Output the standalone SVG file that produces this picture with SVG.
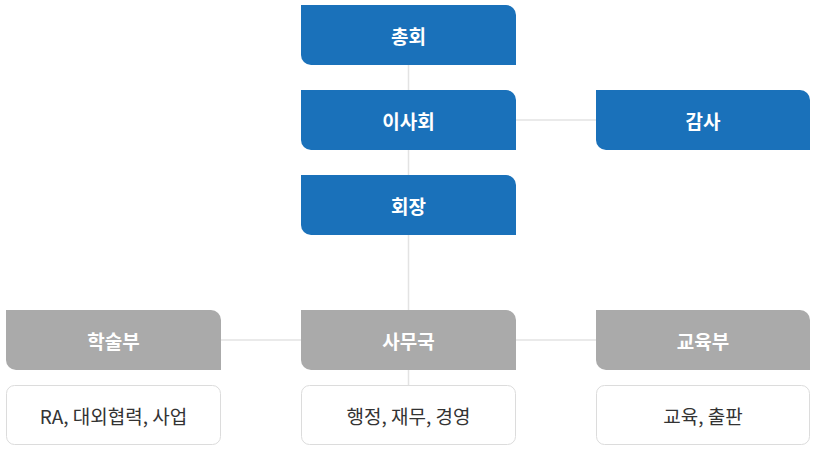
<svg xmlns="http://www.w3.org/2000/svg" width="817" height="450" viewBox="0 0 817 450">
<style>
.blue{fill:#1a71ba}
.gray{fill:#aaaaaa}
.white{fill:#ffffff;stroke:#dcdcdc;stroke-width:1}
.hd{font-family:"Noto Sans CJK KR","Noto Sans",sans-serif;font-size:19px;font-weight:bold;fill:#ffffff;text-anchor:middle;dominant-baseline:central}
.sub{font-family:"Noto Sans CJK KR","Noto Sans",sans-serif;font-size:19px;fill:#333333;text-anchor:middle;dominant-baseline:central}
.ln{stroke:#e3e3e3;stroke-width:1.5;fill:none}
</style>
<rect width="817" height="450" fill="#ffffff"/>
<g id="connectors">
<line class="ln" x1="408.5" y1="65" x2="408.5" y2="385"/>
<line class="ln" x1="516" y1="120" x2="596" y2="120"/>
<line class="ln" x1="221" y1="340" x2="596" y2="340"/>
</g>
<g id="n-general">
<path class="blue" d="M301,5 H506 A10,10 0 0 1 516,15 V65 H311 A10,10 0 0 1 301,55 Z"/>
<text class="hd" x="408.5" y="35">총회</text>
</g>
<g id="n-board">
<path class="blue" d="M301,90 H506 A10,10 0 0 1 516,100 V150 H311 A10,10 0 0 1 301,140 Z"/>
<text class="hd" x="408.5" y="120">이사회</text>
</g>
<g id="n-audit">
<path class="blue" d="M596,90 H800 A10,10 0 0 1 810,100 V150 H606 A10,10 0 0 1 596,140 Z"/>
<text class="hd" x="703" y="120">감사</text>
</g>
<g id="n-president">
<path class="blue" d="M301,175 H506 A10,10 0 0 1 516,185 V235 H311 A10,10 0 0 1 301,225 Z"/>
<text class="hd" x="408.5" y="205">회장</text>
</g>
<g id="n-academic">
<path class="gray" d="M6,310 H211 A10,10 0 0 1 221,320 V370 H16 A10,10 0 0 1 6,360 Z"/>
<text class="hd" x="113.5" y="340">학술부</text>
</g>
<g id="n-office">
<path class="gray" d="M301,310 H506 A10,10 0 0 1 516,320 V370 H311 A10,10 0 0 1 301,360 Z"/>
<text class="hd" x="408.5" y="340">사무국</text>
</g>
<g id="n-education">
<path class="gray" d="M596,310 H800 A10,10 0 0 1 810,320 V370 H606 A10,10 0 0 1 596,360 Z"/>
<text class="hd" x="703" y="340">교육부</text>
</g>
<g id="n-academic-desc">
<rect class="white" x="6.5" y="385.5" width="214" height="59" rx="8"/>
<text class="sub" x="113.5" y="415">RA, 대외협력, 사업</text>
</g>
<g id="n-office-desc">
<rect class="white" x="301.5" y="385.5" width="214" height="59" rx="8"/>
<text class="sub" x="408.5" y="415">행정, 재무, 경영</text>
</g>
<g id="n-education-desc">
<rect class="white" x="596.5" y="385.5" width="213" height="59" rx="8"/>
<text class="sub" x="703" y="415">교육, 출판</text>
</g>
</svg>
